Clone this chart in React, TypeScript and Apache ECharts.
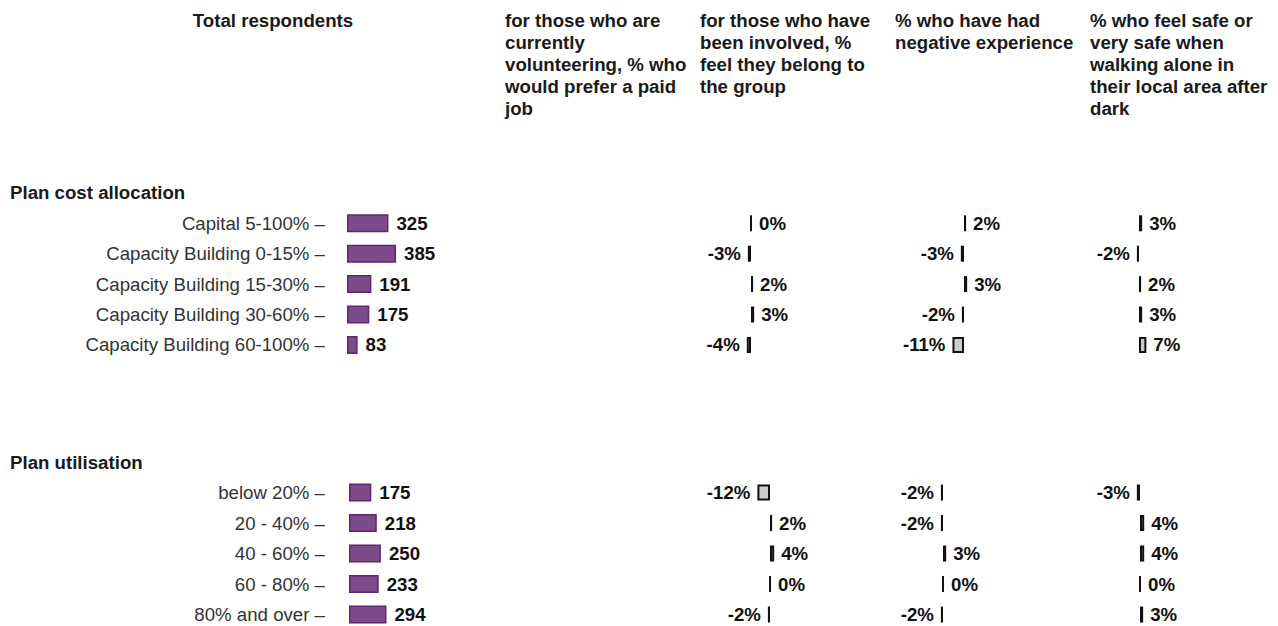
import React, { useEffect, useRef } from "react";
import * as echarts from "echarts";

const costCategories = [
  "Capital 5-100%",
  "Capacity Building 0-15%",
  "Capacity Building 15-30%",
  "Capacity Building 30-60%",
  "Capacity Building 60-100%",
];
const costTotals = [325, 385, 191, 175, 83];
const costBelong = [0, -3, 2, 3, -4];
const costNegative = [2, -3, 3, -2, -11];
const costSafe = [3, -2, 2, 3, 7];

const utilCategories = ["below 20%", "20 - 40%", "40 - 60%", "60 - 80%", "80% and over"];
const utilTotals = [175, 218, 250, 233, 294];
const utilBelong = [-12, 2, 4, 0, -2];
const utilNegative = [-2, -2, 3, 0, -2];
const utilSafe = [-3, 4, 4, 0, 3];

const sectionTitles = ["Plan cost allocation", "Plan utilisation"];
const headerTotal = "Total respondents";
const headerPaid = "for those who are\ncurrently\nvolunteering, % who\nwould prefer a paid\njob";
const headerBelong = "for those who have\nbeen involved, %\nfeel they belong to\nthe group";
const headerNegative = "% who have had\nnegative experience";
const headerSafe = "% who feel safe or\nvery safe when\nwalking alone in\ntheir local area after\ndark";

const FONT = "'Liberation Sans', Arial, sans-serif";
const FS = 18.67;
const PX_PER_PCT = 1.05;

export default function App() {
  const ref = useRef<HTMLDivElement>(null);
  useEffect(() => {
    if (!ref.current) return;
    const chart = echarts.init(ref.current, null, { renderer: "svg" });

    const sections = [
      {
        cats: costCategories,
        totals: costTotals,
        metrics: [costBelong, costNegative, costSafe],
        zeros: [751, 964, 1139],
        top: 208.1,
        height: 152,
        barLeft: 347,
        margin: 22,
      },
      {
        cats: utilCategories,
        totals: utilTotals,
        metrics: [utilBelong, utilNegative, utilSafe],
        zeros: [770, 943, 1140],
        top: 477.3,
        height: 152.5,
        barLeft: 349,
        margin: 24,
      },
    ];

    const grid: any[] = [];
    const xAxis: any[] = [];
    const yAxis: any[] = [];
    const series: any[] = [];

    sections.forEach((s) => {
      const gi = grid.length;
      grid.push({ left: s.barLeft, top: s.top, width: 102, height: s.height });
      xAxis.push({ gridIndex: gi, type: "value", min: 0, max: 800, show: false });
      yAxis.push({
        gridIndex: gi,
        type: "category",
        data: s.cats,
        inverse: true,
        axisLine: { show: false },
        axisTick: { show: false },
        axisLabel: {
          margin: s.margin,
          fontSize: FS,
          fontFamily: FONT,
          color: "#333",
          formatter: (v: string) => `${v} \u2013`,
        },
        splitLine: { show: false },
      });
      series.push({
        type: "bar",
        xAxisIndex: gi,
        yAxisIndex: gi,
        data: s.totals,
        barWidth: 18,
        itemStyle: { color: "#7d4a8a", borderColor: "#62256f", borderWidth: 1.5 },
        label: {
          show: true,
          position: "right",
          distance: 8,
          fontSize: FS,
          fontWeight: "bold",
          fontFamily: FONT,
          color: "#111",
        },
      });

      s.metrics.forEach((vals, mi) => {
        const g = grid.length;
        const zero = s.zeros[mi];
        grid.push({ left: zero - 50 * PX_PER_PCT, top: s.top, width: 100 * PX_PER_PCT, height: s.height });
        xAxis.push({ gridIndex: g, type: "value", min: -50, max: 50, show: false });
        yAxis.push({ gridIndex: g, type: "category", data: s.cats, inverse: true, show: false });
        series.push({
          type: "bar",
          xAxisIndex: g,
          yAxisIndex: g,
          barWidth: 16,
          data: vals.map((v) => ({
            value: v,
            label: { position: v < 0 ? "left" : "right" },
          })),
          itemStyle: { color: "#cccccc", borderColor: "#111", borderWidth: 2 },
          label: {
            show: true,
            distance: 7,
            formatter: (p: any) => `${p.value}%`,
            fontSize: FS,
            fontWeight: "bold",
            fontFamily: FONT,
            color: "#111",
          },
        });
      });
    });

    const headerStyle = (text: string, x: number, align: string) => ({
      type: "text",
      x,
      y: 9,
      style: {
        text,
        fontSize: FS,
        fontWeight: "bold",
        fontFamily: FONT,
        fill: "#1a1a1a",
        align,
        verticalAlign: "top",
        lineHeight: 22,
      },
    });

    const sectionTitle = (text: string, y: number) => ({
      type: "text",
      x: 10,
      y,
      style: {
        text,
        fontSize: FS,
        fontWeight: "bold",
        fontFamily: FONT,
        fill: "#1a1a1a",
        align: "left",
        verticalAlign: "middle",
      },
    });

    const graphic: any[] = [
      headerStyle(headerTotal, 273, "center"),
      headerStyle(headerPaid, 505, "left"),
      headerStyle(headerBelong, 700, "left"),
      headerStyle(headerNegative, 895, "left"),
      headerStyle(headerSafe, 1090, "left"),
      sectionTitle(sectionTitles[0], 192),
      sectionTitle(sectionTitles[1], 462),
    ];

    chart.setOption({
      animation: false,
      backgroundColor: "#ffffff",
      grid,
      xAxis,
      yAxis,
      series,
      graphic,
    });
    return () => chart.dispose();
  }, []);

  return (
    <div
      style={{
        position: "absolute",
        left: 0,
        top: 0,
        width: 1278,
        height: 626,
        overflow: "hidden",
        background: "#fff",
      }}
    >
      <div ref={ref} style={{ width: 1278, height: 680 }} />
    </div>
  );
}
